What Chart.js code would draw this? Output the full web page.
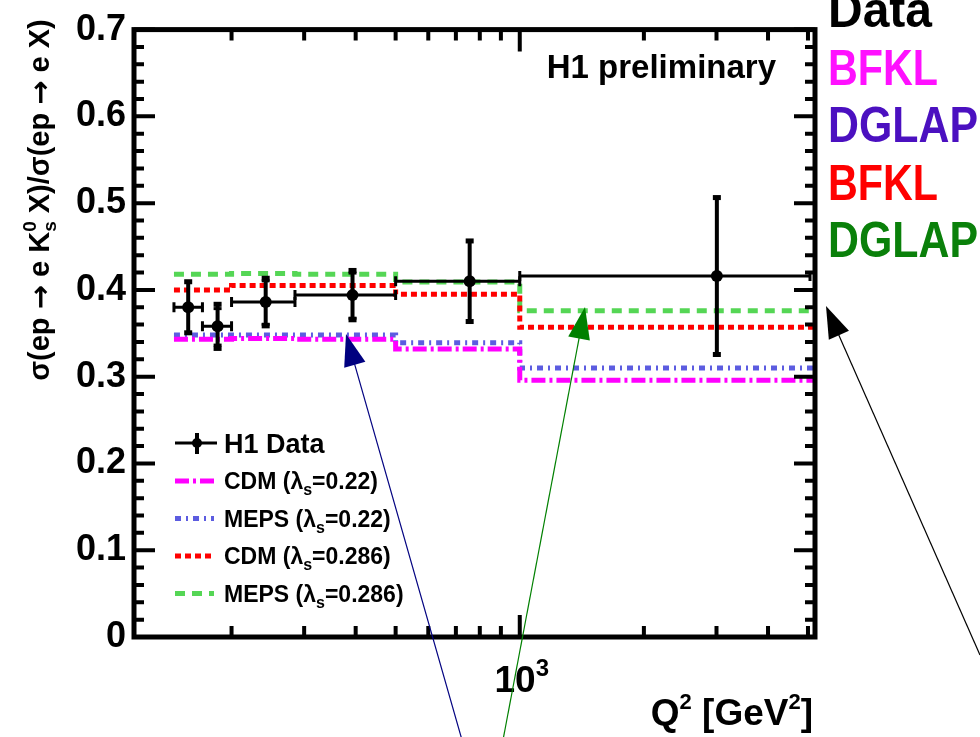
<!DOCTYPE html>
<html>
<head>
<meta charset="utf-8">
<script src="https://cdn.jsdelivr.net/npm/chart.js@4.4.1/dist/chart.umd.min.js"></script>
<style>
    html, body { margin: 0; padding: 0; background: #fff; }
    canvas { display: block; }
</style>
</head>
<body>
<canvas id="chart" width="980" height="737"></canvas>
<script>
// H1 K0s / inclusive ratio vs Q2

// data points
const q2Center = [157, 185, 242, 393, 756, 3006];
const q2Low = [145, 170, 200, 285, 500, 1000];
const q2High = [170, 200, 285, 500, 1000, 5200];
const h1Ratio = [0.380, 0.358, 0.386, 0.394, 0.410, 0.416];
const h1TotErr = [0.030, 0.026, 0.028, 0.029, 0.047, 0.091];
const h1StatErr = [0.030, 0.021, 0.025, 0.026, 0.047, 0.091];

// model predictions, one value per bin
const binEdges = [145, 170, 200, 285, 500, 1000, 5200];
const cdm022 = [0.343, 0.343, 0.344, 0.343, 0.332, 0.296];
const meps022 = [0.348, 0.348, 0.348, 0.348, 0.339, 0.310];
const cdm0286 = [0.400, 0.400, 0.405, 0.405, 0.395, 0.357];
const meps0286 = [0.418, 0.418, 0.419, 0.418, 0.409, 0.376];

// axes
const xMin = 116;
const xMax = 5200;
const yMin = 0;
const yMax = 0.7;
const yTickLabels = ["0", "0.1", "0.2", "0.3", "0.4", "0.5", "0.6", "0.7"];
const xTickValues = [200, 300, 400, 500, 600, 700, 800, 900, 1000, 2000, 3000, 4000, 5000];
const xMajorTick = 1000;

// side notes
const sideNotes = ["Data", "BFKL", "DGLAP", "BFKL", "DGLAP"];

const FONT = '"Liberation Sans", Arial, sans-serif';
const ARROW_FONT = '"DejaVu Sans", sans-serif';

function stepPoints(vals) {
    return binEdges.map((e, i) => ({ x: e, y: vals[Math.min(i, vals.length - 1)] }));
}

function modelSet(label, vals, color, dash) {
    return {
        label: label,
        data: stepPoints(vals),
        stepped: true,
        borderColor: color,
        borderWidth: 5,
        borderDash: dash,
        borderCapStyle: "butt",
        pointRadius: 0,
        fill: false
    };
}

function fontOf(p) {
    return "bold " + p.size + "px " + (p.family || FONT);
}

function drawRich(ctx, parts, x, y, align) {
    let total = 0;
    parts.forEach(p => {
        ctx.font = fontOf(p);
        p.w = ctx.measureText(p.t).width;
        if (p.stack) {
            ctx.font = fontOf(p.stack);
            p.w = Math.max(p.w, ctx.measureText(p.stack.t).width);
        }
        total += p.w;
    });
    let cx = x;
    if (align === "center") cx = x - total / 2;
    if (align === "right") cx = x - total;
    ctx.textAlign = "left";
    ctx.textBaseline = "alphabetic";
    parts.forEach(p => {
        ctx.font = fontOf(p);
        ctx.fillText(p.t, cx, y + (p.dy || 0));
        if (p.stack) {
            ctx.font = fontOf(p.stack);
            ctx.fillText(p.stack.t, cx, y + p.stack.dy);
        }
        cx += p.w;
    });
}

function arrow(ctx, x0, y0, x1, y1, color) {
    const ang = Math.atan2(y1 - y0, x1 - x0);
    const len = 32, half = 11;
    ctx.strokeStyle = color;
    ctx.fillStyle = color;
    ctx.lineWidth = 1.2;
    ctx.setLineDash([]);
    ctx.beginPath();
    ctx.moveTo(x0, y0);
    ctx.lineTo(x1 - Math.cos(ang) * len * 0.8, y1 - Math.sin(ang) * len * 0.8);
    ctx.stroke();
    const bx = x1 - Math.cos(ang) * len, by = y1 - Math.sin(ang) * len;
    ctx.beginPath();
    ctx.moveTo(x1, y1);
    ctx.lineTo(bx - Math.sin(ang) * half, by + Math.cos(ang) * half);
    ctx.lineTo(bx + Math.sin(ang) * half, by - Math.cos(ang) * half);
    ctx.closePath();
    ctx.fill();
}

const decorations = {
    id: "decorations",
    afterDatasetsDraw(chart) {
        const ctx = chart.ctx;
        const xs = chart.scales.x, ys = chart.scales.y;
        const { left, right, top, bottom } = chart.chartArea;
        ctx.save();
        ctx.strokeStyle = "#000";
        ctx.fillStyle = "#000";
        ctx.setLineDash([]);

        // error bars
        h1Ratio.forEach((v, i) => {
            const px = xs.getPixelForValue(q2Center[i]);
            const py = ys.getPixelForValue(v);
            const xl = xs.getPixelForValue(q2Low[i]);
            const xh = Math.min(xs.getPixelForValue(q2High[i]), right - 5);
            ctx.lineWidth = 3;
            ctx.beginPath();
            ctx.moveTo(xl, py); ctx.lineTo(xh, py);
            ctx.moveTo(xl, py - 5); ctx.lineTo(xl, py + 5);
            ctx.moveTo(xh, py - 5); ctx.lineTo(xh, py + 5);
            ctx.stroke();
            const yt = ys.getPixelForValue(v + h1TotErr[i]);
            const yb = ys.getPixelForValue(v - h1TotErr[i]);
            ctx.lineWidth = 4;
            ctx.beginPath();
            ctx.moveTo(px, yt); ctx.lineTo(px, yb);
            ctx.stroke();
            ctx.fillRect(px - 4, yt - 2, 8, 5);
            ctx.fillRect(px - 4, yb - 3, 8, 5);
            if (h1StatErr[i] < h1TotErr[i]) {
                const st = ys.getPixelForValue(v + h1StatErr[i]);
                const sb = ys.getPixelForValue(v - h1StatErr[i]);
                ctx.fillRect(px - 4, st - 1, 8, 3);
                ctx.fillRect(px - 4, sb - 1, 8, 3);
            }
            ctx.beginPath();
            ctx.arc(px, py, 6, 0, Math.PI * 2);
            ctx.fill();
        });

        // frame
        ctx.lineWidth = 5;
        ctx.strokeRect(left, top, right - left, bottom - top);

        // y ticks, both sides
        ctx.lineWidth = 4;
        for (let i = 0; i <= 35; i++) {
            const py = ys.getPixelForValue(i * 0.02);
            const len = i % 5 === 0 ? 21 : 10;
            ctx.beginPath();
            ctx.moveTo(left, py); ctx.lineTo(left + len, py);
            ctx.moveTo(right, py); ctx.lineTo(right - len, py);
            ctx.stroke();
        }
        // x ticks, bottom and top
        xTickValues.forEach(t => {
            const px = xs.getPixelForValue(t);
            const len = t === xMajorTick ? 22 : 11;
            ctx.beginPath();
            ctx.moveTo(px, bottom); ctx.lineTo(px, bottom - len);
            ctx.moveTo(px, top); ctx.lineTo(px, top + len);
            ctx.stroke();
        });

        // x tick label and axis titles
        drawRich(ctx, [{ t: "10", size: 37 }, { t: "3", size: 24, dy: -16 }],
            xs.getPixelForValue(xMajorTick) + 2, 692, "center");
        drawRich(ctx, [
            { t: "Q", size: 37 }, { t: "2", size: 22, dy: -16 },
            { t: " [GeV", size: 37 }, { t: "2", size: 22, dy: -16 }, { t: "]", size: 37 }
        ], right - 2, 725, "right");

        ctx.save();
        ctx.translate(49, 200);
        ctx.rotate(-Math.PI / 2);
        drawRich(ctx, [
            { t: "\u03c3(ep ", size: 29 },
            { t: "\u2192", size: 29, family: ARROW_FONT, dy: 1 },
            { t: " e K", size: 29 },
            { t: "0", size: 19, dy: -13, stack: { t: "s", size: 19, dy: 7 } },
            { t: " X)/\u03c3(ep ", size: 29 },
            { t: "\u2192", size: 29, family: ARROW_FONT, dy: 1 },
            { t: " e X)", size: 29 }
        ], 0, 0, "center");
        ctx.restore();

        // H1 preliminary
        ctx.font = "bold 33px " + FONT;
        ctx.textAlign = "right";
        ctx.fillText("H1 preliminary", 776, 78);

        // legend
        const lx0 = 175, lx1 = 214, tx = 224;
        ctx.lineWidth = 3;
        ctx.beginPath();
        ctx.moveTo(lx0, 443); ctx.lineTo(lx1 + 3, 443);
        ctx.stroke();
        ctx.lineWidth = 4;
        ctx.beginPath();
        ctx.moveTo(197, 433); ctx.lineTo(197, 454);
        ctx.stroke();
        ctx.beginPath();
        ctx.arc(197, 443, 5, 0, Math.PI * 2);
        ctx.fill();
        ctx.textAlign = "left";
        ctx.font = "bold 27px " + FONT;
        ctx.fillText("H1 Data", tx, 453);

        const models = chart.data.datasets.slice(0, 4);
        const legendNames = [["CDM", "0.22"], ["MEPS", "0.22"], ["CDM", "0.286"], ["MEPS", "0.286"]];
        models.forEach((ds, i) => {
            const y = 481 + i * 37.5;
            ctx.strokeStyle = ds.borderColor;
            ctx.lineWidth = 5;
            ctx.setLineDash(ds.borderDash);
            ctx.beginPath();
            ctx.moveTo(lx0, y); ctx.lineTo(lx1, y);
            ctx.stroke();
            ctx.setLineDash([]);
            ctx.fillStyle = "#000";
            drawRich(ctx, [
                { t: legendNames[i][0] + " (\u03bb", size: 23 },
                { t: "s", size: 16, dy: 6 },
                { t: "=" + legendNames[i][1] + ")", size: 23 }
            ], tx, y + 8, "left");
        });

        // side notes and arrows (annotations, outside the frame)
        const noteColors = ["#000000", "#ff10ff", "#4b10c0", "#ff0000", "#0a800a"];
        const noteWidths = [104, 110, 150, 110, 150];
        ctx.textAlign = "left";
        ctx.font = "bold 50px " + FONT;
        sideNotes.forEach((t, i) => {
            ctx.fillStyle = noteColors[i];
            ctx.fillText(t, 828, 27 + i * 57.5, noteWidths[i]);
        });

        arrow(ctx, 462, 740, 346, 334, "#000080");
        arrow(ctx, 503, 740, 585, 307, "#008000");
        arrow(ctx, 980, 655, 826, 306, "#000000");

        ctx.restore();
    }
};

new Chart(document.getElementById("chart"), {
    type: "line",
    data: {
        datasets: [
            modelSet("CDM (0.22)", cdm022, "#ff00ff", [14, 4, 3, 4]),
            modelSet("MEPS (0.22)", meps022, "#5c5ce0", [6, 5, 2, 5]),
            modelSet("CDM (0.286)", cdm0286, "#ff0000", [6, 4]),
            modelSet("MEPS (0.286)", meps0286, "#55d655", [10, 7])
        ]
    },
    options: {
        responsive: false,
        animation: false,
        devicePixelRatio: 1,
        layout: { padding: { top: 23, right: 165, bottom: 0, left: 0 } },
        plugins: {
            legend: { display: false },
            tooltip: { enabled: false }
        },
        scales: {
            x: {
                type: "logarithmic",
                min: xMin,
                max: xMax,
                grid: { display: false, drawTicks: false },
                border: { display: false },
                ticks: { display: false },
                afterFit: s => { s.height = 100; }
            },
            y: {
                min: yMin,
                max: yMax,
                grid: { display: false, drawTicks: false },
                border: { display: false },
                ticks: {
                    stepSize: 0.1,
                    padding: 8,
                    color: "#000",
                    font: { family: FONT, size: 36, weight: "bold" },
                    callback: (v, i) => yTickLabels[i]
                },
                afterFit: s => { s.width = 134; }
            }
        }
    },
    plugins: [decorations]
});
</script>
</body>
</html>
